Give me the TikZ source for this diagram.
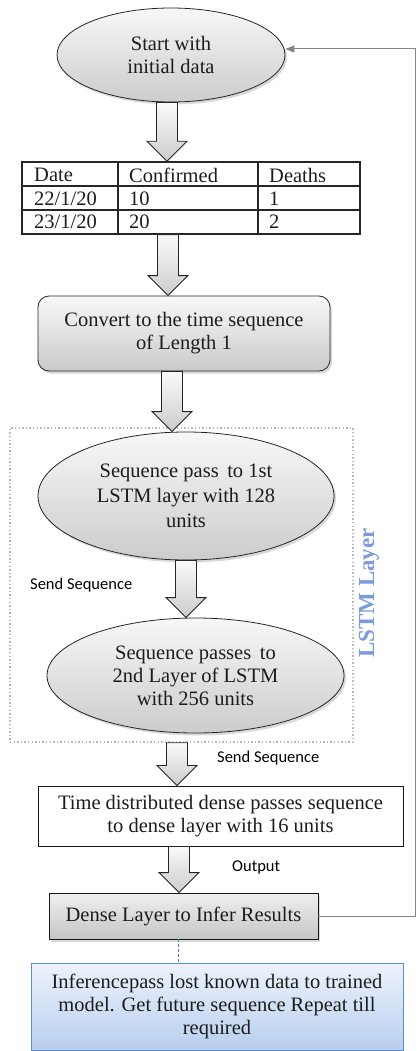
\documentclass[tikz,border=0pt]{standalone}
\usepackage{fontspec}
\setmainfont{Liberation Serif}
\newfontfamily\labelfont{Carlito}
\usetikzlibrary{shapes.geometric, shadows, calc, arrows.meta}

\definecolor{inkc}{HTML}{1C1C1C}
\definecolor{feedc}{HTML}{858585}
\definecolor{linkc}{HTML}{4F81BD}
\definecolor{bluefillt}{HTML}{EDF3FC}
\definecolor{bluefillb}{HTML}{B8CEEE}
\definecolor{blueedge}{HTML}{5B8BD0}
\definecolor{lstmc}{HTML}{7C9BDC}

\tikzset{
  txt/.style={font=\fontsize{20.5}{23}\selectfont, text=inkc, align=center, inner sep=0pt},
  softshadow/.style={drop shadow={opacity=0.30, shadow xshift=2pt, shadow yshift=-2.5pt}},
  oval/.style={txt, ellipse, draw=black!85, line width=0.8pt,
               top color=gray!6, bottom color=gray!40, softshadow},
  roundbox/.style={txt, rectangle, rounded corners=11pt, draw=black!85, line width=0.8pt,
               top color=gray!5, bottom color=gray!42, softshadow},
  plainbox/.style={txt, rectangle, draw=black!90, line width=1pt, fill=white},
  densebox/.style={txt, rectangle, draw=black!90, line width=0.9pt,
               top color=gray!12, bottom color=gray!45, softshadow},
  infobox/.style={txt, rectangle, draw=blueedge, line width=1pt,
               top color=bluefillt, bottom color=bluefillb},
  groupbox/.style={rectangle, draw=gray!55, line width=1.4pt,
               dash pattern=on 1.4pt off 2.2pt},
  blockarr/.style={draw=black!85, line width=0.9pt, top color=gray!4, bottom color=gray!40},
  celltxt/.style={font=\fontsize{20.5}{23}\selectfont, text=inkc, anchor=west, inner sep=0pt},
  sidelabel/.style={font=\labelfont\fontsize{16.5}{18}\selectfont, text=black, anchor=west, inner sep=0pt},
  feedback/.style={draw=feedc, line width=1pt, -{Triangle[length=9pt, width=7pt]}},
  linkline/.style={draw=linkc, line width=0.9pt, dash pattern=on 3pt off 2pt},
}

% hollow block arrow from the bottom of one node to the top of another, at a given x (pt)
\newcommand\blockarrow[3]{%
  \draw[blockarr] let \p1=(#1.south), \p2=(#2.north) in
    (#3pt-10.5pt,\y1) -- (#3pt+10.5pt,\y1) -- (#3pt+10.5pt,\y2+20pt) --
    (#3pt+20pt,\y2+20pt) -- (#3pt,\y2) -- (#3pt-20pt,\y2+20pt) --
    (#3pt-10.5pt,\y2+20pt) -- cycle;}

\begin{document}
\begin{tikzpicture}[x=1pt, y=-1pt]
\useasboundingbox (0,0) rectangle (416,1051);

% start
\node[oval, minimum width=228, minimum height=94] (start) at (171,55) {Start with\\initial data};

% data table
\node[rectangle, draw=black!85, line width=1.5pt, minimum width=338, minimum height=72, inner sep=0pt] (tbl) at (191,198) {};
\draw[black!85, line width=1.5pt] (118,162) -- (118,234) (258,162) -- (258,234)
  (22,186) -- (360,186) (22,210) -- (360,210);
\node[celltxt] (c11) at (34,175) {Date};
\node[celltxt] (c12) at (129,175) {Confirmed};
\node[celltxt] (c13) at (269,175) {Deaths};
\node[celltxt] (c21) at (34,199) {22/1/20};
\node[celltxt] (c22) at (129,199) {10};
\node[celltxt] (c23) at (269,199) {1};
\node[celltxt] (c31) at (34,222) {23/1/20};
\node[celltxt] (c32) at (129,222) {20};
\node[celltxt] (c33) at (269,222) {2};

% conversion
\node[roundbox, minimum width=292, minimum height=75] (conv) at (184,333.5) {Convert to the time sequence\\of Length 1};

% LSTM group
\node[groupbox, minimum width=343, minimum height=314] (lstmbox) at (181.5,585) {};
\node[oval, minimum width=296, minimum height=128, font=\fontsize{20.5}{25}\selectfont] (lstma) at (186,496) {Sequence pass\, to 1st\\LSTM layer with 128\\units};
\node[oval, minimum width=297, minimum height=115] (lstmb) at (195.5,675.5) {Sequence passes\, to\\2nd Layer of LSTM\\with 256 units};
\node[rotate=90, font=\bfseries\fontsize{23}{26}\selectfont, text=lstmc, inner sep=0pt] (lstmlbl) at (369,593) {LSTM Layer};

% dense stages
\node[plainbox, minimum width=365, minimum height=60] (tdd) at (220.5,816) {Time distributed dense passes sequence\\to dense layer with 16 units};
\node[densebox, minimum width=269, minimum height=46] (dense) at (183.5,916) {Dense Layer to Infer Results};
\node[infobox, minimum width=372, minimum height=87] (infer) at (217,1006.5) {Inferencepass lost known data to trained\\model. Get future sequence Repeat till\\required};

% flow arrows
\blockarrow{start}{tbl}{167}
\blockarrow{tbl}{conv}{168}
\blockarrow{conv}{lstma}{172}
\blockarrow{lstma}{lstmb}{186}
\blockarrow{lstmbox}{tdd}{177}
\blockarrow{tdd}{dense}{179}

% arrow labels
\node[sidelabel] (lblsend1) at (30,585) {Send Sequence};
\node[sidelabel] (lblsend2) at (217,758) {Send Sequence};
\node[sidelabel] (lblout) at (232,867) {Output};

% feedback loop and inference link
\coordinate (fbturn) at (415.6,49);
\draw[feedback] (dense.east) -| (fbturn) -- (start.east |- fbturn);
\coordinate (linkx) at (178,0);
\draw[linkline] (dense.south -| linkx) -- (infer.north -| linkx);
\end{tikzpicture}
\end{document}
